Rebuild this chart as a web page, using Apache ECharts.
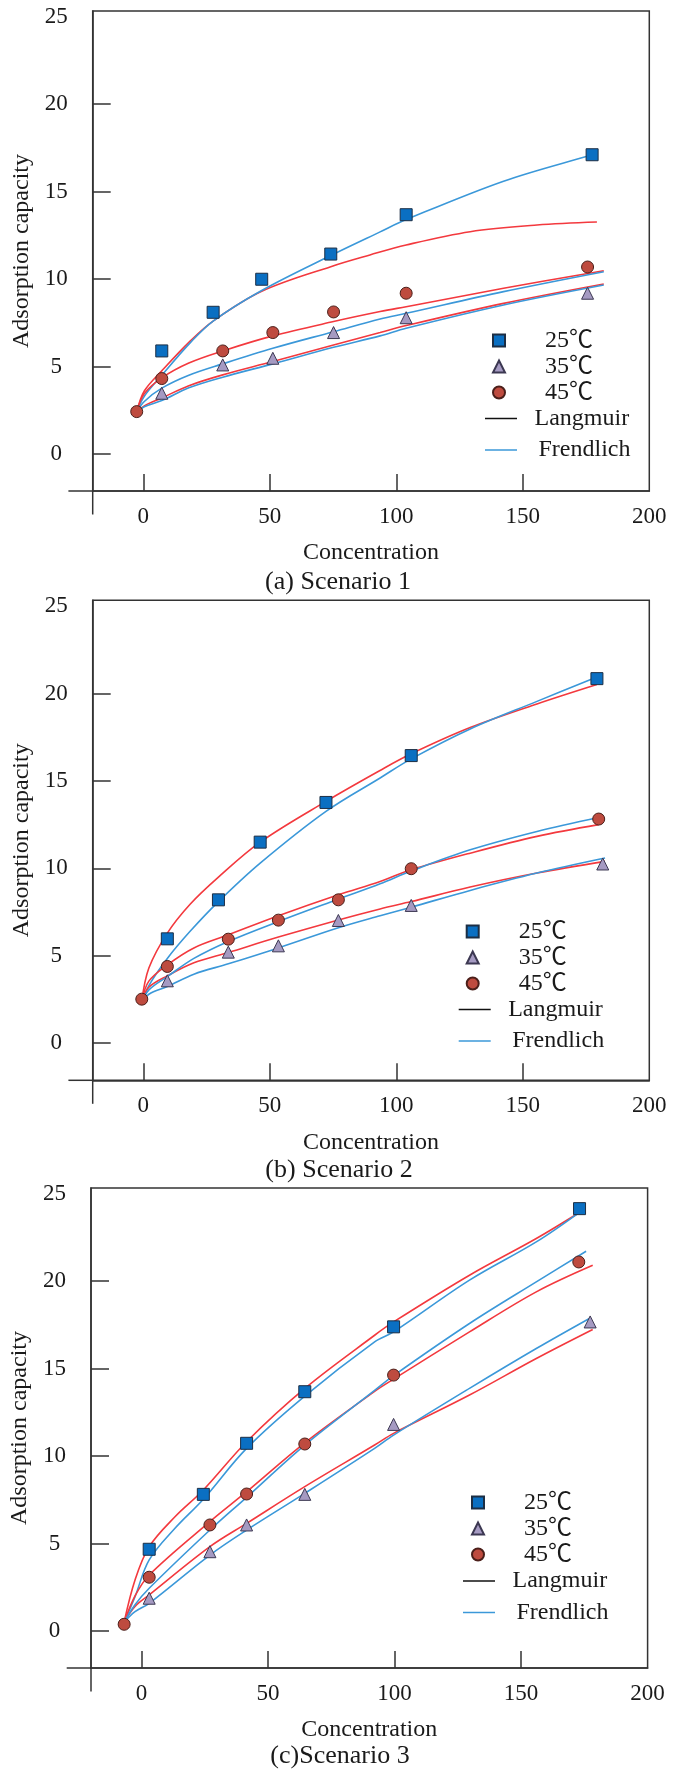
<!DOCTYPE html>
<html>
<head>
    <meta charset="utf-8" />
    <title>Adsorption capacity vs concentration</title>
    <style>
        html, body { margin: 0; padding: 0; background: #fff; }
        #charts { width: 682px; height: 1771px; }
    </style>
</head>
<body>
    <div id="charts"></div>
    <script src="https://cdn.jsdelivr.net/npm/echarts@6/dist/echarts.min.js"></script>
    <script type="text/javascript">
        // 坐标轴刻度
        var ticksX = [0, 50, 100, 150, 200];
        var tickMarksX = [0, 50, 100, 150];
        var ticksY = [0, 5, 10, 15, 20, 25];
        var tickMarksY = [0, 5, 10, 15, 20];
        var temps = ['25℃', '35℃', '45℃'];
        var captions = ['(a) Scenario 1', '(b) Scenario 2', '(c)Scenario 3'];

        // Scenario 1 实测点 [concentration, capacity]
        var s1_25 = [[7.3, 5.89], [27.6, 8.10], [46.8, 9.99], [74.1, 11.43], [103.9, 13.68], [177.4, 17.11]];
        var s1_35 = [[7.3, 3.47], [31.4, 5.09], [51.2, 5.47], [75.2, 6.94], [103.9, 7.79], [175.6, 9.19]];
        var s1_45 = [[-2.6, 2.42], [7.3, 4.31], [31.4, 5.89], [51.2, 6.94], [75.2, 8.12], [103.9, 9.19], [175.6, 10.69]];
        // Scenario 1 拟合曲线
        var s1_L25 = [[-2.6, 2.4], [0.4, 3.6], [7.3, 4.75], [18.5, 6.45], [27.6, 7.6], [46.8, 9.3], [74.1, 10.71], [89.6, 11.38], [103.9, 11.95], [129.2, 12.71], [155.6, 13.09], [179.3, 13.26]];
        var s1_F25 = [[-2.6, 2.4], [0.4, 3.3], [7.3, 4.5], [18.5, 6.35], [27.6, 7.6], [46.8, 9.35], [74.1, 11.35], [93.6, 12.7], [103.9, 13.4], [142.4, 15.6], [177.4, 17.11], [179.3, 17.19]];
        var s1_L45 = [[-2.6, 2.4], [0.4, 3.45], [7.3, 4.35], [18, 5.2], [31.4, 5.89], [51.2, 6.75], [75.2, 7.57], [93.6, 8.14], [103.9, 8.42], [142.4, 9.47], [182, 10.48]];
        var s1_F45 = [[-2.6, 2.4], [0.4, 3.0], [7.3, 3.76], [18, 4.5], [31.4, 5.15], [51.2, 6.04], [75.2, 6.99], [93.6, 7.72], [103.9, 8.04], [142.4, 9.28], [182, 10.42]];
        var s1_L35 = [[-2.6, 2.4], [0.4, 2.75], [7.3, 3.2], [18, 3.9], [31.4, 4.52], [51.2, 5.28], [75.2, 6.23], [93.6, 6.94], [103.9, 7.34], [142.4, 8.61], [182, 9.72]];
        var s1_F35 = [[-2.6, 2.4], [0.4, 2.7], [7.3, 3.05], [18, 3.78], [31.4, 4.39], [51.2, 5.15], [75.2, 6.1], [93.6, 6.75], [103.9, 7.19], [142.4, 8.52], [182, 9.66]];

        // Scenario 2
        var s2_25 = [[9.5, 5.97], [29.7, 8.2], [46.2, 11.5], [72.2, 13.77], [105.9, 16.45], [179.3, 20.85]];
        var s2_35 = [[9.5, 3.57], [33.6, 5.21], [53.4, 5.57], [77.1, 7.02], [105.9, 7.88], [181.6, 10.25]];
        var s2_45 = [[-0.6, 2.52], [9.5, 4.39], [33.6, 5.95], [53.4, 7.04], [77.1, 8.2], [105.9, 9.98], [180, 12.82]];
        var s2_L25 = [[-0.6, 2.4], [2.2, 4.3], [9.5, 6.3], [18.5, 7.95], [29.7, 9.5], [46.2, 11.5], [72.2, 13.83], [93.6, 15.6], [105.9, 16.55], [129.2, 18.05], [155.6, 19.4], [179.3, 20.51]];
        var s2_F25 = [[-0.6, 2.3], [2.2, 3.3], [9.5, 4.85], [18.5, 6.4], [29.7, 8.1], [46.2, 10.3], [72.2, 13.26], [93.6, 15.17], [105.9, 16.26], [129.2, 17.97], [155.6, 19.55], [179.3, 20.95]];
        var s2_L45 = [[-0.6, 2.4], [2.2, 3.55], [9.5, 4.48], [20, 5.45], [33.6, 6.2], [53.4, 7.29], [77.1, 8.49], [93.6, 9.25], [105.9, 9.92], [129.2, 10.87], [155.6, 11.83], [180, 12.5]];
        var s2_F45 = [[-0.6, 2.3], [2.2, 3.05], [9.5, 3.81], [20, 4.85], [33.6, 5.82], [53.4, 6.96], [77.1, 8.24], [93.6, 9.12], [105.9, 9.85], [129.2, 11.06], [155.6, 12.11], [180, 12.91]];
        var s2_L35 = [[-0.6, 2.4], [2.2, 3.2], [9.5, 3.85], [20, 4.6], [33.6, 5.19], [53.4, 6.07], [77.1, 7.05], [93.6, 7.68], [105.9, 8.1], [129.2, 8.93], [155.6, 9.73], [182.5, 10.4]];
        var s2_F35 = [[-0.6, 2.3], [2.2, 2.8], [9.5, 3.24], [20, 3.95], [33.6, 4.54], [53.4, 5.45], [77.1, 6.6], [93.6, 7.29], [105.9, 7.78], [129.2, 8.74], [155.6, 9.73], [182.5, 10.59]];

        // Scenario 3
        var s3_25 = [[3.0, 4.67], [24.4, 7.81], [41.5, 10.73], [64.5, 13.68], [99.6, 17.39], [173.1, 24.15]];
        var s3_35 = [[3.0, 1.87], [27.0, 4.53], [41.5, 6.06], [64.5, 7.81], [99.6, 11.81], [177.3, 17.67]];
        var s3_45 = [[-6.9, 0.38], [3.0, 3.07], [27.0, 6.06], [41.5, 7.83], [64.5, 10.69], [99.6, 14.63], [172.8, 21.1]];
        var s3_L25 = [[-6.9, 0.5], [-2.6, 2.91], [3.0, 4.82], [13.2, 6.53], [24.4, 8.06], [41.5, 10.82], [64.5, 13.87], [92.1, 16.91], [99.6, 17.67], [129.6, 20.34], [156, 22.44], [172.4, 23.87]];
        var s3_F25 = [[-6.9, 0.5], [-2.6, 1.96], [3.0, 4.06], [13.2, 5.87], [24.4, 7.53], [41.5, 10.44], [64.5, 13.43], [92.1, 16.53], [99.6, 17.1], [129.6, 20.06], [156, 22.25], [172.4, 23.87]];
        var s3_L45 = [[-6.9, 0.5], [-2.6, 2.0], [3.0, 3.2], [27.0, 6.25], [41.5, 7.96], [64.5, 10.76], [92.1, 13.7], [99.6, 14.4], [129.6, 17.1], [156, 19.39], [178.3, 20.91]];
        var s3_F45 = [[-6.9, 0.5], [-2.6, 1.5], [3.0, 2.44], [27.0, 5.77], [41.5, 7.64], [64.5, 10.63], [92.1, 13.75], [99.6, 14.6], [129.6, 17.58], [156, 19.96], [175.7, 21.71]];
        var s3_L35 = [[-6.9, 0.5], [-2.6, 1.4], [3.0, 2.06], [27.0, 4.82], [41.5, 6.15], [64.5, 8.25], [92.1, 10.63], [99.6, 11.3], [129.6, 13.49], [156, 15.58], [178.3, 17.24]];
        var s3_F35 = [[-6.9, 0.5], [-2.6, 1.1], [3.0, 1.58], [27.0, 4.34], [41.5, 5.77], [64.5, 7.87], [92.1, 10.44], [99.6, 11.2], [129.6, 13.87], [156, 16.15], [177, 17.87]];

        var points = [[s1_25, s1_35, s1_45], [s2_25, s2_35, s2_45], [s3_25, s3_35, s3_45]];
        var langmuir = [[s1_L25, s1_L35, s1_L45], [s2_L25, s2_L35, s2_L45], [s3_L25, s3_L35, s3_L45]];
        var freundlich = [[s1_F25, s1_F35, s1_F45], [s2_F25, s2_F35, s2_F45], [s3_F25, s3_F35, s3_F45]];

        // 每个子图的位置(像素)
        var frames = [
            { left: 92.7, top: 11.0, capX: 338, capTop: 569, mkX: 498, mkY: 340.5, lnX: 485, lnY: 418.5 },
            { left: 92.7, top: 600.3, capX: 339, capTop: 1157, mkX: 471.7, mkY: 931.5, lnX: 458.7, lnY: 1009.5 },
            { left: 91.0, top: 1188.0, capX: 340, capTop: 1743, mkX: 477, mkY: 1502.5, lnX: 463, lnY: 1581 }
        ];
        var gridW = 556.6, gridH = 480;

        var font = '"Liberation Serif", "Times New Roman", "Noto Sans CJK SC", serif';
        var ink = '#1a1a1a', axisInk = '#333';
        var red = '#f3393e', blue = '#3b98d9';
        var marks = [
            { symbol: 'rect', fill: '#0a6fc2', edge: '#1c2e44' },
            { symbol: 'triangle', fill: '#a59ac2', edge: '#3c3852' },
            { symbol: 'circle', fill: '#be4b3f', edge: '#4b1f1a' }
        ];

        var myChart = echarts.init(document.getElementById('charts'));

        var option = {
            animation: false,
            backgroundColor: '#fff',
            title: [], grid: [], xAxis: [], yAxis: [], legend: [], series: [], graphic: []
        };

        for (var g = 0; g < 3; g++) {
            var f = frames[g];
            var bottom = f.top + gridH;

            option.grid.push({
                left: f.left, top: f.top, width: gridW, height: gridH,
                show: true, borderColor: axisInk, borderWidth: 1.5,
                containLabel: false, outerBoundsMode: 'none'
            });

            option.xAxis.push({
                gridIndex: g, type: 'value', min: -20, max: 200,
                name: 'Concentration', nameLocation: 'middle', nameGap: 50,
                nameTextStyle: { fontFamily: font, fontSize: 24, color: ink },
                axisLine: { show: true, onZero: false, lineStyle: { color: axisInk, width: 1.5 } },
                axisTick: { show: true, inside: true, length: 17, customValues: tickMarksX, lineStyle: { color: axisInk, width: 1.5 } },
                axisLabel: { customValues: ticksX, margin: 14, fontFamily: font, fontSize: 23, color: ink },
                splitLine: { show: false }
            });

            option.yAxis.push({
                gridIndex: g, type: 'value', min: -2.12, max: 25.33,
                name: 'Adsorption capacity', nameLocation: 'middle', nameGap: 56,
                nameTextStyle: { fontFamily: font, fontSize: 24, color: ink },
                axisLine: { show: true, onZero: false, lineStyle: { color: axisInk, width: 1.5 } },
                axisTick: { show: true, inside: true, length: 18, customValues: tickMarksY, lineStyle: { color: axisInk, width: 1.5 } },
                axisLabel: { customValues: ticksY, align: 'center', margin: 36.5, fontFamily: font, fontSize: 23, color: ink },
                splitLine: { show: false }
            });

            option.title.push({
                text: captions[g], left: f.capX, top: f.capTop, textAlign: 'center', padding: 0,
                textStyle: { fontFamily: font, fontSize: 26, fontWeight: 'normal', color: ink }
            });

            // 图例:符号
            option.legend.push({
                orient: 'vertical', left: f.mkX - 6, top: f.mkY - 13, padding: 0,
                itemWidth: 12, itemHeight: 12, itemGap: 0, selectedMode: false,
                textStyle: { fontFamily: font, fontSize: 24, lineHeight: 26, color: ink, padding: [0, 0, 0, 35] },
                data: temps
            });
            // 图例:曲线
            option.legend.push({
                orient: 'vertical', left: f.lnX, top: f.lnY - 12, padding: 0,
                icon: 'rect', itemWidth: 32, itemHeight: 1.5, itemGap: 7.5, selectedMode: false,
                textStyle: { fontFamily: font, fontSize: 24, lineHeight: 24, color: ink },
                data: [
                    { name: 'Langmuir', itemStyle: { color: '#111' }, textStyle: { padding: [0, 0, 0, 12.5] } },
                    { name: 'Frendlich', itemStyle: { color: blue }, textStyle: { padding: [0, 0, 0, 16.5] } }
                ]
            });

            // 坐标轴延伸线
            option.graphic.push({
                type: 'line', silent: true,
                shape: { x1: f.left - 24.3, y1: bottom, x2: f.left, y2: bottom },
                style: { stroke: axisInk, lineWidth: 1.5 }
            });
            option.graphic.push({
                type: 'line', silent: true,
                shape: { x1: f.left, y1: bottom, x2: f.left, y2: bottom + 23.5 },
                style: { stroke: axisInk, lineWidth: 1.5 }
            });

            for (var k = 0; k < 3; k++) {
                option.series.push({
                    type: 'line', name: 'Langmuir', xAxisIndex: g, yAxisIndex: g,
                    data: langmuir[g][k], smooth: 0.35, symbol: 'none', silent: true,
                    lineStyle: { color: red, width: 1.6 }, itemStyle: { color: red }
                });
                option.series.push({
                    type: 'line', name: 'Frendlich', xAxisIndex: g, yAxisIndex: g,
                    data: freundlich[g][k], smooth: 0.35, symbol: 'none', silent: true,
                    lineStyle: { color: blue, width: 1.6 }, itemStyle: { color: blue }
                });
            }
            for (var k = 0; k < 3; k++) {
                option.series.push({
                    type: 'scatter', name: temps[k], xAxisIndex: g, yAxisIndex: g,
                    data: points[g][k], symbol: marks[k].symbol, symbolSize: 12, z: 3, silent: true,
                    itemStyle: { color: marks[k].fill, borderColor: marks[k].edge, borderWidth: 1, opacity: 1 }
                });
            }
        }

        myChart.setOption(option);
    </script>
</body>
</html>
